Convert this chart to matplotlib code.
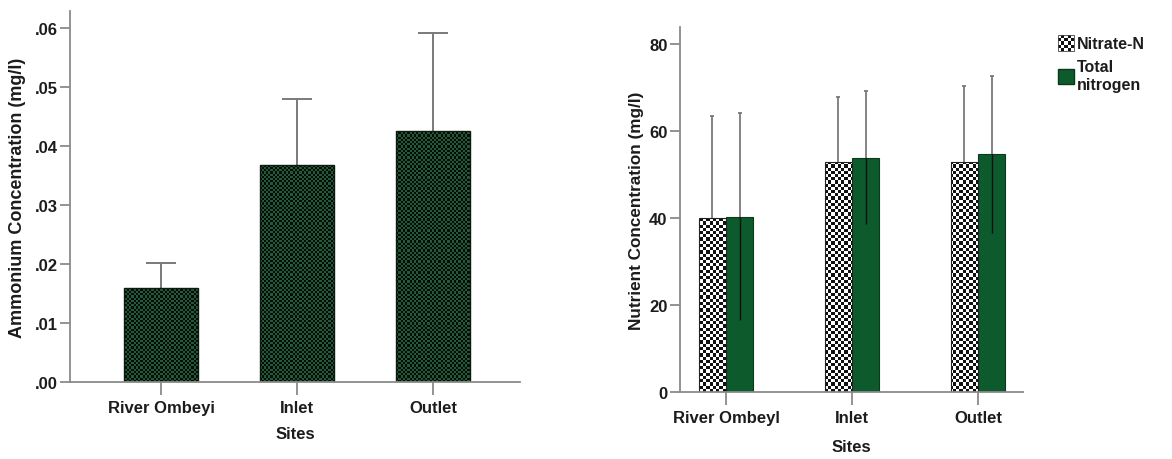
import numpy as np
import matplotlib
matplotlib.use("Agg")
import matplotlib.pyplot as plt
from matplotlib.patches import Patch, Rectangle
from matplotlib.image import BboxImage
from matplotlib.transforms import Bbox, TransformedBbox
from matplotlib.legend_handler import HandlerPatch

# ---- data -------------------------------------------------------------
sites_left = ["River Ombeyi", "Inlet", "Outlet"]
ammonium_mean = [0.0160, 0.0368, 0.0425]
ammonium_err = [0.0041, 0.0112, 0.0166]
ammonium_ticks = [0.00, 0.01, 0.02, 0.03, 0.04, 0.05, 0.06]
ammonium_tick_labels = [".00", ".01", ".02", ".03", ".04", ".05", ".06"]

sites_right = ["River Ombeyl", "Inlet", "Outlet"]
nitrate_mean = [40.0, 52.8, 52.8]
nitrate_err = [23.5, 15.0, 17.5]
tn_mean = [40.3, 53.9, 54.7]
tn_err = [23.8, 15.3, 18.0]
nutrient_ticks = [0, 20, 40, 60, 80]
series_names = ["Nitrate-N", "Total\nnitrogen"]

# ---- style ------------------------------------------------------------
plt.rcParams["font.family"] = ["Liberation Sans", "DejaVu Sans"]
plt.rcParams["font.weight"] = "bold"
plt.rcParams["axes.labelweight"] = "bold"
TEXT = "#1c1c1c"
AXIS = "#8a8a8a"
ERR = "#7a7a7a"

fig = plt.figure(figsize=(11.72, 4.6), dpi=100)
W, H = 1172, 460


def checker(ncols, nrows, c1, c2):
    yy, xx = np.mgrid[0:nrows, 0:ncols]
    mask = (xx + yy) % 2 == 0
    img = np.zeros((nrows, ncols, 3))
    img[mask] = matplotlib.colors.to_rgb(c1)
    img[~mask] = matplotlib.colors.to_rgb(c2)
    return img


def fill_pattern(ax, bars, cell_px, c1, c2):
    """Overlay a checkerboard texture clipped to each bar."""
    fig.canvas.draw()
    bb = ax.get_window_extent()
    ncols = int(bb.width / cell_px)
    nrows = int(bb.height / cell_px)
    img = checker(ncols, nrows, c1, c2)
    x0, x1 = ax.get_xlim()
    y0, y1 = ax.get_ylim()
    for b in bars:
        im = ax.imshow(img, extent=(x0, x1, y0, y1), origin="lower",
                       aspect="auto", interpolation="nearest", zorder=2.1)
        im.set_clip_path(b)
    ax.set_xlim(x0, x1)
    ax.set_ylim(y0, y1)


def style_axes(ax, fs):
    for s in ("top", "right"):
        ax.spines[s].set_visible(False)
    for s in ("left", "bottom"):
        ax.spines[s].set_color(AXIS)
        ax.spines[s].set_linewidth(1.3)
    ax.tick_params(axis="both", colors=AXIS, labelcolor=TEXT, labelsize=fs, width=1.3)
    ax.tick_params(axis="y", length=7, pad=2)
    ax.tick_params(axis="x", length=9, pad=4)


def draw_errors(ax, x, mean, err, capsize, lw):
    m = np.asarray(mean)
    e = np.asarray(err)
    # symmetric bars sit behind the bar faces; only the upper whisker shows
    ax.errorbar(x, m, yerr=e, fmt="none", ecolor=ERR,
                elinewidth=lw, capsize=capsize, capthick=lw, zorder=1.9)
    # lower whisker drawn as a dark line inside the bar
    ax.vlines(x, m - e, m, colors="#101010", linewidth=1.0, zorder=2.05)


# ---- left panel: ammonium --------------------------------------------
axL = fig.add_axes([70 / W, 1 - 383 / H, (520 - 70) / W, (383 - 12) / H])
xl = np.arange(len(sites_left))
barsL = axL.bar(xl, ammonium_mean, width=0.54, color="#173a22",
                edgecolor="none", zorder=2)
axL.set_xlim(-0.67, 2.64)
axL.set_ylim(0, 0.0629)
axL.set_yticks(ammonium_ticks)
axL.set_yticklabels(ammonium_tick_labels)
axL.set_xticks(xl)
axL.set_xticklabels(sites_left)
style_axes(axL, 12)
axL.set_ylabel("Ammonium Concentration (mg/l)", fontsize=13, color=TEXT, labelpad=6)
axL.set_xlabel("Sites", fontsize=12, color=TEXT, labelpad=8)
fill_pattern(axL, barsL, 2.2, "#24583a", "#050d07")
axL.bar(xl, ammonium_mean, width=0.54, fill=False, edgecolor="#0c1a10",
        linewidth=1.0, zorder=2.2)
draw_errors(axL, xl, ammonium_mean, ammonium_err, capsize=10.8, lw=1.4)

# ---- right panel: nitrate-N and total nitrogen -----------------------
axR = fig.add_axes([680 / W, 1 - 393.3 / H, (1023 - 680) / W, (393.3 - 28) / H])
xr = np.arange(len(sites_right))
bw = 0.218
barsN = axR.bar(xr - bw / 2, nitrate_mean, width=bw, color="#8a8a8a",
                edgecolor="none", zorder=2)
barsT = axR.bar(xr + bw / 2, tn_mean, width=bw, color="#0d5a2c",
                edgecolor="#0a3a1c", linewidth=0.8, zorder=2)
axR.set_xlim(-0.365, 2.357)
axR.set_ylim(0, 83.9)
axR.set_yticks(nutrient_ticks)
axR.set_xticks(xr)
axR.set_xticklabels(sites_right)
style_axes(axR, 12)
axR.set_ylabel("Nutrient Concentration (mg/l)", fontsize=12.3, color=TEXT, labelpad=4)
axR.set_xlabel("Sites", fontsize=12, color=TEXT, labelpad=10)
fill_pattern(axR, barsN, 3.2, "#ffffff", "#111111")
axR.bar(xr - bw / 2, nitrate_mean, width=bw, fill=False, edgecolor="#222222",
        linewidth=0.8, zorder=2.2)
draw_errors(axR, xr - bw / 2, nitrate_mean, nitrate_err, capsize=1.5, lw=1.3)
draw_errors(axR, xr + bw / 2, tn_mean, tn_err, capsize=1.5, lw=1.3)


# ---- legend ------------------------------------------------------------
class CheckerHandler(HandlerPatch):
    def create_artists(self, legend, orig_handle, xdescent, ydescent,
                       width, height, fontsize, trans):
        box = TransformedBbox(Bbox.from_bounds(-xdescent, -ydescent, width, height), trans)
        im = BboxImage(box, interpolation="nearest")
        im.set_data(checker(5, 5, "#ffffff", "#111111"))
        frame = Rectangle((-xdescent, -ydescent), width, height, fill=False,
                          edgecolor="#444444", linewidth=0.6, transform=trans)
        return [im, frame]


handles = [Patch(facecolor="white", edgecolor="#444444"),
           Patch(facecolor="#0d5a2c", edgecolor="#0a3a1c")]
fig.legend(handles, series_names, loc="upper left",
           bbox_to_anchor=(1052 / W, 1 - 30 / H), frameon=False,
           fontsize=11.5, handlelength=1.0, handleheight=1.1,
           handletextpad=0.15, labelspacing=0.5, borderaxespad=0,
           labelcolor=TEXT,
           handler_map={handles[0]: CheckerHandler()})

fig.savefig("out.png", dpi=100, facecolor="white")
